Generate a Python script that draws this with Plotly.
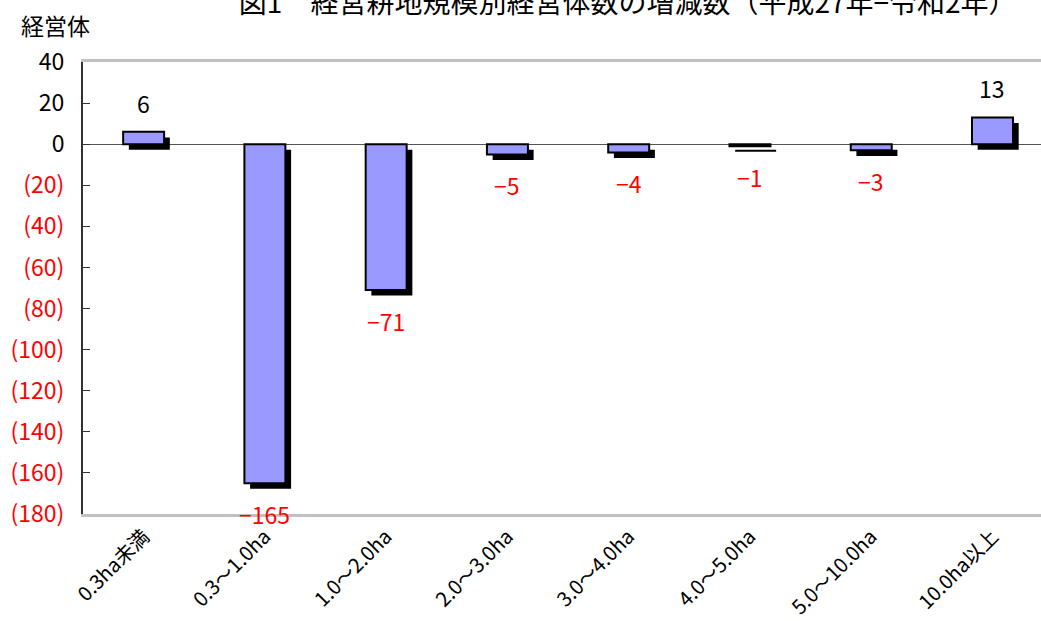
import plotly.graph_objects as go

# Change in number of farm management entities by cultivated-land size class
categories = ["0.3ha未満", "0.3〜1.0ha", "1.0〜2.0ha", "2.0〜3.0ha",
              "3.0〜4.0ha", "4.0〜5.0ha", "5.0〜10.0ha", "10.0ha以上"]
changes = [6, -165, -71, -5, -4, -1, -3, 13]

y_ticks = [40, 20, 0, -20, -40, -60, -80, -100, -120, -140, -160, -180]

FONT = "Noto Sans CJK JP"
BAR_FILL = "#9999FF"
RED = "#FF0000"

BAR_W = 0.338
SHADOW_DX = 0.047   # category units
SHADOW_DY = 2.7     # value units

def tick_text(v):
    if v < 0:
        return f"<span style='color:{RED}'>({-v})</span>"
    return str(v)

def value_text(v):
    return f"−{-v}" if v < 0 else str(v)

fig = go.Figure()

# drop shadow behind each bar
fig.add_trace(go.Bar(
    x=categories, y=changes, base=-SHADOW_DY,
    width=BAR_W, offset=-BAR_W / 2 + SHADOW_DX,
    marker=dict(color="black", line=dict(width=0)),
    hoverinfo="skip", showlegend=False,
))
# main bars
fig.add_trace(go.Bar(
    x=categories, y=changes,
    width=BAR_W, offset=-BAR_W / 2,
    marker=dict(color=BAR_FILL, line=dict(color="black", width=2)),
    showlegend=False,
))

# value labels
for c, v in zip(categories, changes):
    fig.add_annotation(
        x=c, y=v, xref="x", yref="y", text=value_text(v), showarrow=False,
        yshift=29 if v >= 0 else -31, yanchor="middle",
        font=dict(family=FONT, size=23, color="black" if v >= 0 else RED),
    )

fig.add_annotation(
    x=-0.029, y=1.082, xref="paper", yref="paper", text="経営体",
    showarrow=False, xanchor="center", yanchor="middle",
    font=dict(family=FONT, size=23, color="black"),
)

fig.update_layout(
    width=1041, height=621,
    margin=dict(l=83, r=0, t=62, b=107),
    paper_bgcolor="white", plot_bgcolor="white",
    barmode="overlay",
    title=dict(
        text="図1　経営耕地規模別経営体数の増減数（平成27年−令和2年）",
        xref="container", yref="container", x=0.603, y=0.995,
        xanchor="center", yanchor="middle",
        font=dict(family=FONT, size=28, color="black"),
    ),
    xaxis=dict(
        type="category", range=[-0.5, 7.4],
        showline=True, linecolor="#c0c0c0", linewidth=3, mirror=True,
        showgrid=False, ticks="", tickangle=-45,
        tickfont=dict(family=FONT, size=20, color="black"),
    ),
    # short tick marks sitting on the zero line between categories
    xaxis2=dict(
        overlaying="x", anchor="free", position=180 / 220, side="top",
        range=[-0.5, 7.4], tickvals=[0.5, 1.5, 2.5, 3.5, 4.5, 5.5, 6.5],
        ticks="outside", ticklen=5, tickcolor="#444", tickwidth=1,
        showticklabels=False, showline=False, showgrid=False, zeroline=False,
    ),
    yaxis=dict(
        range=[-180, 40], tickvals=y_ticks,
        ticktext=[tick_text(v) for v in y_ticks],
        showline=True, linecolor="#333", linewidth=2,
        ticks="inside", ticklen=7, tickcolor="#333", ticklabelstandoff=12,
        showgrid=False, zeroline=True, zerolinecolor="#555", zerolinewidth=1,
        tickfont=dict(family=FONT, size=23, color="black"),
    ),
)

fig.write_html("out.html")
